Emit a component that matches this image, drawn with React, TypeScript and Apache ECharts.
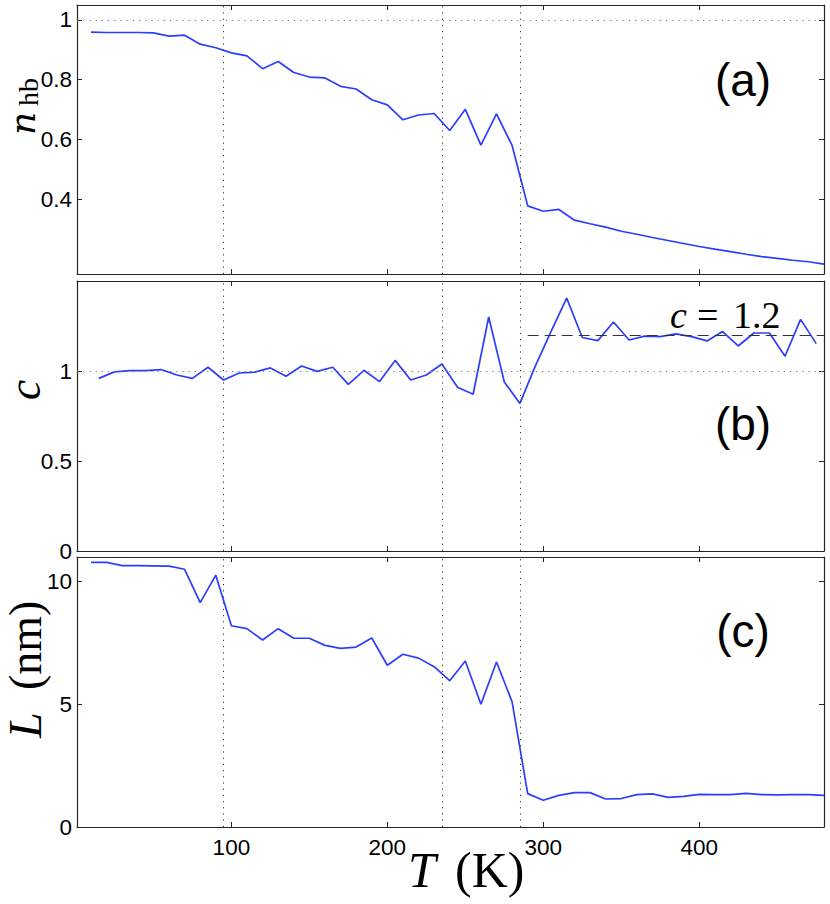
import React, { useEffect, useRef } from "react";
import * as echarts from "echarts";

// Temperatures (K) of the n_hb and L samples
const tempsA = [10, 20, 30, 40, 50, 60, 70, 80, 90, 100, 110, 120, 130, 140, 150, 160, 170, 180, 190, 200, 210, 220, 230, 240, 250, 260, 270, 280, 290, 300, 310, 320, 330, 340, 350, 360, 370, 380, 390, 400, 410, 420, 430, 440, 450, 460, 470, 480];
// Fraction of hydrogen bonds n_hb
const nHb = [0.959, 0.958, 0.958, 0.958, 0.957, 0.946, 0.949, 0.919, 0.907, 0.89, 0.88, 0.837, 0.861, 0.824, 0.809, 0.806, 0.778, 0.769, 0.733, 0.716, 0.666, 0.682, 0.687, 0.63, 0.701, 0.581, 0.686, 0.58, 0.378, 0.36, 0.366, 0.33, 0.318, 0.307, 0.293, 0.283, 0.272, 0.262, 0.252, 0.242, 0.233, 0.225, 0.216, 0.208, 0.202, 0.196, 0.191, 0.183];
// Temperatures (K) of the c samples (midpoints)
const tempsB = [15, 25, 35, 45, 55, 65, 75, 85, 95, 105, 115, 125, 135, 145, 155, 165, 175, 185, 195, 205, 215, 225, 235, 245, 255, 265, 275, 285, 295, 305, 315, 325, 335, 345, 355, 365, 375, 385, 395, 405, 415, 425, 435, 445, 455, 465, 475];
const cVals = [0.959, 0.995, 1.002, 1.002, 1.008, 0.978, 0.959, 1.021, 0.95, 0.989, 0.994, 1.017, 0.971, 1.028, 0.998, 1.021, 0.926, 1.004, 0.941, 1.059, 0.95, 0.978, 1.039, 0.91, 0.871, 1.3, 0.939, 0.82, 1.03, 1.22, 1.405, 1.186, 1.169, 1.272, 1.172, 1.194, 1.191, 1.206, 1.191, 1.167, 1.219, 1.139, 1.211, 1.211, 1.082, 1.287, 1.152];
// Length L (nm)
const lVals = [10.78, 10.78, 10.65, 10.65, 10.64, 10.63, 10.5, 9.14, 10.26, 8.2, 8.08, 7.62, 8.08, 7.69, 7.69, 7.4, 7.28, 7.33, 7.7, 6.59, 7.04, 6.88, 6.53, 5.96, 6.76, 5.0, 6.72, 5.1, 1.36, 1.09, 1.29, 1.4, 1.4, 1.14, 1.16, 1.32, 1.35, 1.21, 1.25, 1.33, 1.32, 1.32, 1.37, 1.32, 1.31, 1.32, 1.32, 1.29];

const markerTemps = [95, 235, 285];
const xTicks = [100, 200, 300, 400];
const yTicksA = [0.4, 0.6, 0.8, 1];
const yTicksB = [0, 0.5, 1];
const yTicksC = [0, 5, 10];
const refOne = 1;
const cRef = 1.2;
const cRefStart = 290;
const xMin = 1;
const xMax = 480;

const FRAME = "#262626";
const BLUE = "#2c3efd";
const SANS = "Liberation Sans";
const SERIF = "Liberation Serif";
const SERIF_WIDE = "DejaVu Serif";

export default function App() {
  const ref = useRef<HTMLDivElement>(null);

  useEffect(() => {
    if (!ref.current) return;
    const chart = echarts.init(ref.current, null, { renderer: "svg" });

    const grids = [
      { left: 77, top: 5, width: 747, height: 269 },
      { left: 77, top: 281, width: 747, height: 270 },
      { left: 77, top: 557, width: 747, height: 270 },
    ];
    const yRanges = [
      { min: 0.15, max: 1.05, ticks: yTicksA },
      { min: 0, max: 1.5, ticks: yTicksB },
      { min: 0, max: 11, ticks: yTicksC },
    ];

    const xAxes: any[] = [];
    const yAxes: any[] = [];
    grids.forEach((_, i) => {
      ["bottom", "top"].forEach((pos) => {
        const showLabel = pos === "bottom" && i === 2;
        xAxes.push({
          type: "value",
          gridIndex: i,
          position: pos,
          min: xMin,
          max: xMax,
          axisLine: { show: true, onZero: false, lineStyle: { color: FRAME, width: 1.2 } },
          axisTick: { show: true, inside: true, length: 5, customValues: xTicks, lineStyle: { color: FRAME } },
          axisLabel: showLabel
            ? { show: true, customValues: xTicks, fontSize: 22.5, fontFamily: SANS, color: "#000", margin: 9 }
            : { show: false },
          splitLine: { show: false },
        });
      });
      ["left", "right"].forEach((pos) => {
        const r = yRanges[i];
        yAxes.push({
          type: "value",
          gridIndex: i,
          position: pos,
          min: r.min,
          max: r.max,
          axisLine: { show: true, onZero: false, lineStyle: { color: FRAME, width: 1.2 } },
          axisTick: { show: true, inside: true, length: 5, customValues: r.ticks, lineStyle: { color: FRAME } },
          axisLabel:
            pos === "left"
              ? { show: true, customValues: r.ticks, fontSize: 22.5, fontFamily: SANS, color: "#000", margin: 5, formatter: (v: number) => String(v) }
              : { show: false },
          splitLine: { show: false },
        });
      });
    });

    const vLineStyle = { color: "#333", width: 1, type: [1.2, 5] };
    const hLineStyle = { color: "#777", width: 1, type: [1.2, 5] };

    const markLineFor = (withHorizontal: boolean, extra: any[] = []) => ({
      silent: true,
      symbol: ["none", "none"],
      label: { show: false },
      animation: false,
      data: [
        ...markerTemps.map((t) => ({ xAxis: t, lineStyle: vLineStyle })),
        ...(withHorizontal ? [{ yAxis: refOne, lineStyle: hLineStyle }] : []),
        ...extra,
      ],
    });

    const series: any[] = [
      {
        type: "line",
        xAxisIndex: 0,
        yAxisIndex: 0,
        data: tempsA.map((t, k) => [t, nHb[k]]),
        showSymbol: false,
        lineStyle: { color: BLUE, width: 1.7 },
        markLine: markLineFor(true),
      },
      {
        type: "line",
        xAxisIndex: 2,
        yAxisIndex: 2,
        data: tempsB.map((t, k) => [t, cVals[k]]),
        showSymbol: false,
        lineStyle: { color: BLUE, width: 1.7 },
        markLine: markLineFor(true, [
          [
            { coord: [cRefStart, cRef], lineStyle: { color: "#333", width: 1, type: [11, 6] } },
            { coord: [xMax, cRef] },
          ],
        ]),
      },
      {
        type: "line",
        xAxisIndex: 4,
        yAxisIndex: 4,
        data: tempsA.map((t, k) => [t, lVals[k]]),
        showSymbol: false,
        lineStyle: { color: BLUE, width: 1.7 },
        markLine: markLineFor(false),
      },
    ];

    const txt = (
      x: number,
      y: number,
      text: string,
      size: number,
      family: string,
      italic = false,
      align = "left",
      lineHeight?: number
    ) => ({
      type: "text",
      x,
      y,
      silent: true,
      style: {
        text,
        fontSize: size,
        fontFamily: family,
        fontStyle: italic ? "italic" : "normal",
        fill: "#000",
        align,
        verticalAlign: "middle",
        lineHeight: lineHeight ?? size,
      },
    });

    const graphic: any[] = [
      // n_hb
      {
        type: "group",
        x: 22,
        y: 135,
        rotation: Math.PI / 2,
        children: [txt(0, 0, "n", 36, SERIF_WIDE, true, "left", 30), txt(29, 6, "hb", 28, SERIF, false, "left", 22)],
      },
      // c
      { type: "group", x: 24, y: 390, rotation: Math.PI / 2, children: [txt(0, 0, "c", 46, SERIF, true, "center", 30)] },
      // L (nm)
      {
        type: "group",
        x: 25,
        y: 738,
        rotation: Math.PI / 2,
        children: [txt(0, 0, "L", 46, SERIF, true, "left", 34), txt(48, 0, "(nm)", 46, SERIF, false, "left", 40)],
      },
      // T (K)
      txt(408, 870, "T", 50, SERIF, true),
      txt(455, 870, "(K)", 50, SERIF),
      // panel labels
      txt(743, 80, "(a)", 46, SANS, false, "center"),
      txt(743, 424, "(b)", 46, SANS, false, "center"),
      txt(743, 631, "(c)", 46, SANS, false, "center"),
      // c = 1.2
      txt(670, 315, "c", 38, SERIF, true),
      txt(697, 315, "=", 38, SERIF),
      txt(733, 315, "1.2", 38, SERIF),
    ];

    chart.setOption({
      animation: false,
      backgroundColor: "#fff",
      grid: grids,
      xAxis: xAxes,
      yAxis: yAxes,
      series,
      graphic,
    });

    return () => chart.dispose();
  }, []);

  return <div ref={ref} style={{ position: "absolute", left: 0, top: 0, width: 830, height: 904 }} />;
}
